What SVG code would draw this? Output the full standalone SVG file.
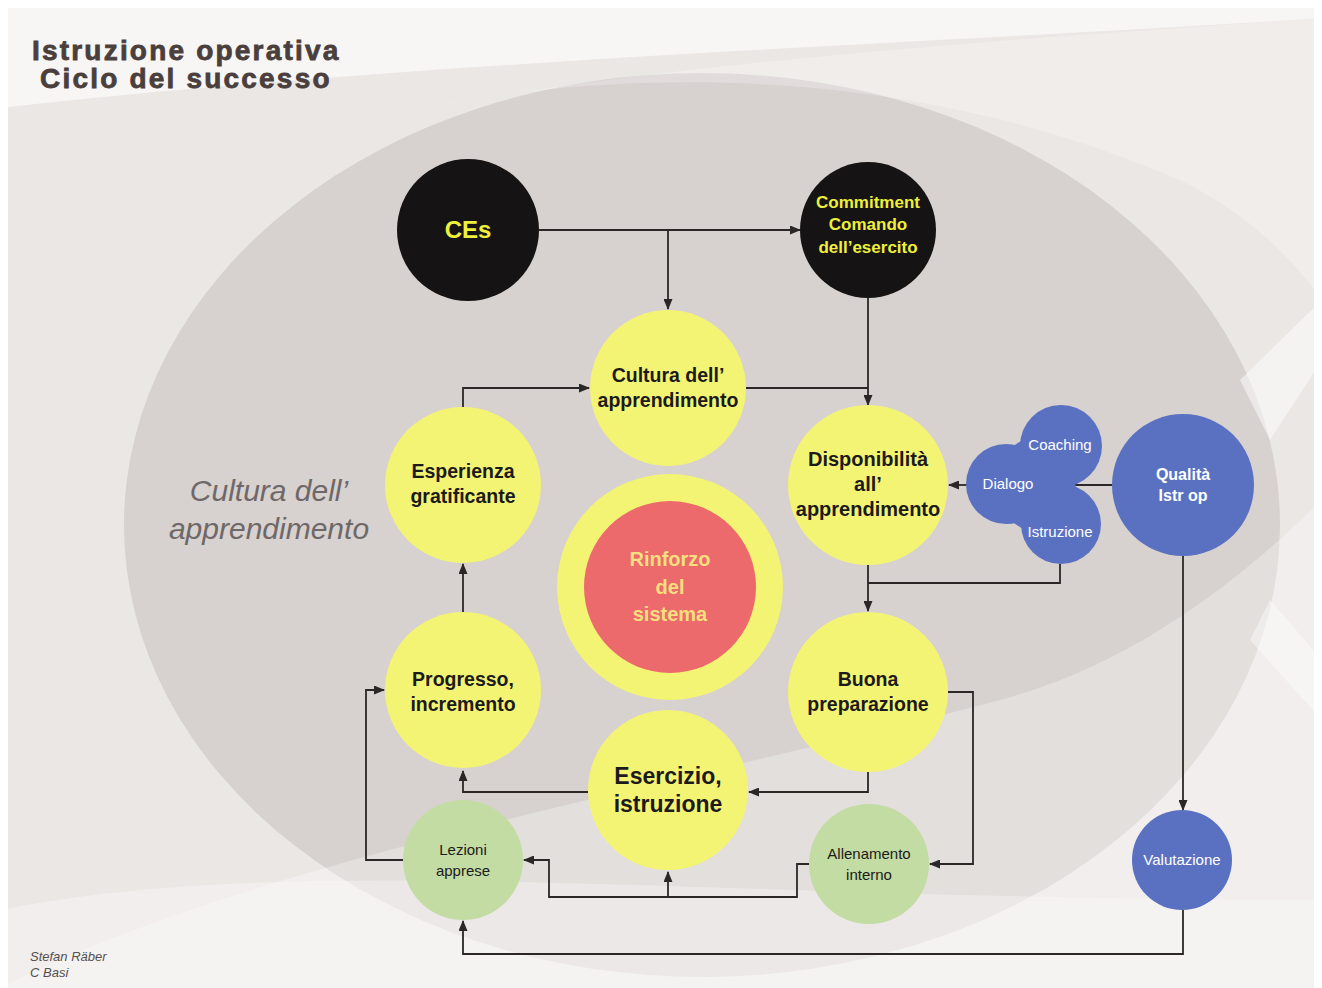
<svg xmlns="http://www.w3.org/2000/svg" width="1322" height="988" viewBox="0 0 1322 988">
<defs>
<style>
.n{font-family:"Liberation Sans",Arial,sans-serif;font-weight:bold;text-anchor:middle;fill:#1c1a1a}
.y{fill:#f4f474}
.g{fill:#c3dca3}
.b{fill:#5a71c2}
.w{font-family:"Liberation Sans",Arial,sans-serif;text-anchor:middle;fill:#ffffff}
.s{font-family:"Liberation Sans",Arial,sans-serif;text-anchor:middle;fill:#1c1a1a}
.c{fill:none;stroke:#2b2727;stroke-width:1.8}
</style>
<marker id="ah" markerUnits="userSpaceOnUse" markerWidth="11" markerHeight="9" refX="10" refY="4.5" orient="auto">
<path d="M0,0 L11,4.5 L0,9 z" fill="#2b2727"/>
</marker>
</defs>
<!-- background -->
<rect x="0" y="0" width="1322" height="988" fill="#ebe7e5"/>
<path d="M0,0 H1322 V18 C1000,40 420,60 0,108 Z" fill="#f8f6f5"/>
<rect x="0" y="0" width="1322" height="8" fill="#ffffff"/>
<rect x="0" y="0" width="8" height="988" fill="#ffffff"/>
<rect x="1314" y="0" width="8" height="988" fill="#ffffff"/>
<ellipse cx="702" cy="525" rx="578" ry="452" fill="#d7d1cf"/>
<path d="M420,108 C620,70 900,60 1180,180 C1260,220 1300,270 1322,300 V18 C1000,40 700,60 420,108 Z" fill="#ffffff" opacity="0.25"/>
<path d="M0,988 C250,860 700,780 1000,700 C1150,660 1260,560 1322,500 V988 Z" fill="#ffffff" opacity="0.3"/>
<path d="M0,910 C300,850 700,900 1322,900 V988 H0 Z" fill="#ffffff" opacity="0.3"/>
<path d="M1240,380 L1322,300 V360 L1270,440 Z" fill="#ffffff" opacity="0.5"/>
<path d="M1250,640 L1322,720 V660 L1270,600 Z" fill="#ffffff" opacity="0.4"/>

<!-- title -->
<g id="title" font-family="Liberation Sans, Arial, sans-serif" font-weight="bold" fill="#4a3f3c" stroke="#4a3f3c" stroke-width="0.8" font-size="28" letter-spacing="2.2">
<text x="32" y="60">Istruzione operativa</text>
<text x="40" y="88">Ciclo del successo</text>
</g>
<g id="label-cultura" font-family="Liberation Sans, Arial, sans-serif" font-style="italic" fill="#6e6868" font-size="30" text-anchor="middle">
<text x="269" y="501">Cultura dell’</text>
<text x="269" y="539">apprendimento</text>
</g>
<g id="credits" font-family="Liberation Sans, Arial, sans-serif" font-style="italic" fill="#555050" font-size="13">
<text x="30" y="961">Stefan Räber</text>
<text x="30" y="977">C Basi</text>
</g>

<!-- connectors -->
<g id="connectors">
<path class="c" d="M539,230 H800" marker-end="url(#ah)"/>
<path class="c" d="M668,230 V309" marker-end="url(#ah)"/>
<path class="c" d="M868,298 V405" marker-end="url(#ah)"/>
<path class="c" d="M746,388 H868"/>
<path class="c" d="M463,407 V388 H589" marker-end="url(#ah)"/>
<path class="c" d="M463,612 V564" marker-end="url(#ah)"/>
<path class="c" d="M868,565 V611" marker-end="url(#ah)"/>
<path class="c" d="M1060,564 V583 H868"/>
<path class="c" d="M967,485 H949" marker-end="url(#ah)"/>
<path class="c" d="M1112,485 H1075"/>
<path class="c" d="M1183,556 V810" marker-end="url(#ah)"/>
<path class="c" d="M1183,910 V954 H463 V921" marker-end="url(#ah)"/>
<path class="c" d="M868,772 V792 H749" marker-end="url(#ah)"/>
<path class="c" d="M588,792 H463 V771" marker-end="url(#ah)"/>
<path class="c" d="M948,692 H973 V864 H930" marker-end="url(#ah)"/>
<path class="c" d="M809,864 H797 V897 H549 V860 H524" marker-end="url(#ah)"/>
<path class="c" d="M668,897 V872" marker-end="url(#ah)"/>
<path class="c" d="M403,860 H366 V690 H384" marker-end="url(#ah)"/>
</g>

<!-- nodes -->
<g id="node-ces">
<circle cx="468" cy="230" r="71" fill="#151313"/>
<text x="468" y="238" font-family="Liberation Sans, Arial, sans-serif" font-weight="bold" font-size="24" fill="#eef03a" text-anchor="middle">CEs</text>
</g>
<g id="node-commitment">
<circle cx="868" cy="230" r="68" fill="#151313"/>
<g font-family="Liberation Sans, Arial, sans-serif" font-weight="bold" font-size="17" fill="#eef03a" text-anchor="middle">
<text x="868" y="208">Commitment</text>
<text x="868" y="230">Comando</text>
<text x="868" y="253">dell’esercito</text>
</g>
</g>
<g id="node-cultura">
<circle class="y" cx="668" cy="388" r="78"/>
<text class="n" x="668" y="382" font-size="19.5">Cultura dell’</text>
<text class="n" x="668" y="407" font-size="19.5">apprendimento</text>
</g>
<g id="node-disponibilita">
<circle class="y" cx="868" cy="485" r="80"/>
<text class="n" x="868" y="466" font-size="20">Disponibilità</text>
<text class="n" x="868" y="491" font-size="20">all’</text>
<text class="n" x="868" y="516" font-size="20">apprendimento</text>
</g>
<g id="node-esperienza">
<circle class="y" cx="463" cy="485" r="78"/>
<text class="n" x="463" y="478" font-size="19.5">Esperienza</text>
<text class="n" x="463" y="503" font-size="19.5">gratificante</text>
</g>
<g id="node-rinforzo">
<circle class="y" cx="670" cy="587" r="113"/>
<circle cx="670" cy="587" r="86" fill="#ec6a6c"/>
<g font-family="Liberation Sans, Arial, sans-serif" font-weight="bold" font-size="20" fill="#f5df7e" text-anchor="middle">
<text x="670" y="566">Rinforzo</text>
<text x="670" y="594">del</text>
<text x="670" y="621">sistema</text>
</g>
</g>
<g id="node-progresso">
<circle class="y" cx="463" cy="690" r="78"/>
<text class="n" x="463" y="686" font-size="19.5">Progresso,</text>
<text class="n" x="463" y="711" font-size="19.5">incremento</text>
</g>
<g id="node-buona">
<circle class="y" cx="868" cy="692" r="80"/>
<text class="n" x="868" y="686" font-size="19.5">Buona</text>
<text class="n" x="868" y="711" font-size="19.5">preparazione</text>
</g>
<g id="node-esercizio">
<circle class="y" cx="668" cy="790" r="80"/>
<text class="n" x="668" y="784" font-size="23">Esercizio,</text>
<text class="n" x="668" y="812" font-size="23">istruzione</text>
</g>
<g id="node-lezioni">
<circle class="g" cx="463" cy="860" r="60"/>
<text class="s" x="463" y="855" font-size="15">Lezioni</text>
<text class="s" x="463" y="876" font-size="15">apprese</text>
</g>
<g id="node-allenamento">
<circle class="g" cx="869" cy="864" r="60"/>
<text class="s" x="869" y="859" font-size="15">Allenamento</text>
<text class="s" x="869" y="880" font-size="15">interno</text>
</g>
<g id="node-valutazione">
<circle class="b" cx="1182" cy="860" r="50"/>
<text class="w" x="1182" y="865" font-size="15">Valutazione</text>
</g>
<g id="node-qualita">
<circle class="b" cx="1183" cy="485" r="71"/>
<text class="w" x="1183" y="480" font-size="16" font-weight="bold">Qualità</text>
<text class="w" x="1183" y="501" font-size="16" font-weight="bold">Istr op</text>
</g>
<g id="node-cluster">
<circle class="b" cx="1061" cy="446" r="41"/>
<circle class="b" cx="1006" cy="484" r="40"/>
<circle class="b" cx="1061" cy="524" r="40"/>
<path class="b" d="M1006,450 L1040,430 L1076,486 L1040,540 L1006,518 Z"/>
<text class="w" x="1060" y="450" font-size="15">Coaching</text>
<text class="w" x="1008" y="489" font-size="15">Dialogo</text>
<text class="w" x="1060" y="537" font-size="15">Istruzione</text>
</g>
</svg>
